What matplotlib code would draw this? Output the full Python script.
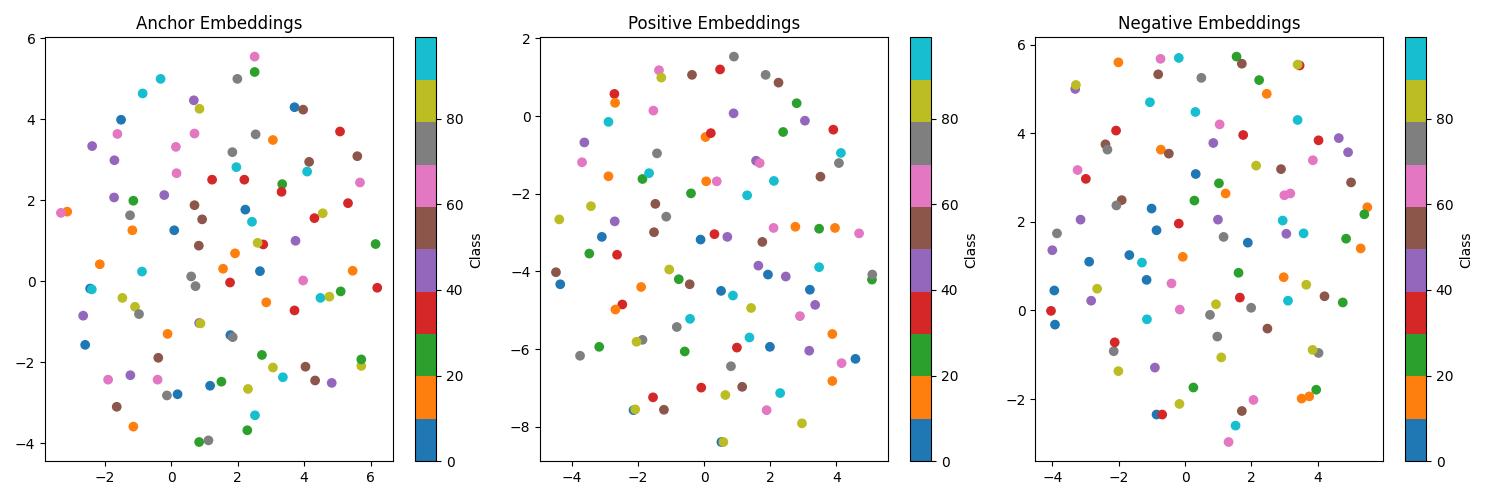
import matplotlib
matplotlib.use("Agg")
import matplotlib.pyplot as plt
import numpy as np

# class labels: 0-99, tab10 groups of 10 (5=blue, 15=orange, 25=green, 35=red,
# 45=purple, 55=brown, 65=pink, 75=gray, 85=olive, 95=cyan)

anchor_x = [-0.32, -0.86, 0.68, 0.85, -1.51, -1.62, 0.70, -2.38, 0.14, -1.71,
            0.16, 1.23, -1.72, -1.14, -0.21, -3.13, -3.32, -1.24, 0.70, 0.93,
            -1.17, 0.09, 0.83, 2.51, 2.51, 1.99, 3.71, 3.97, 5.08, 2.54,
            3.06, 1.84, 5.60, 1.96, 4.15, 4.09, 2.20, 5.68, 3.34, 3.32,
            5.32, 2.23, 4.56, 4.31, 2.43, 2.77, 2.60, 3.74, 6.15, 1.92,
            -2.15, -0.88, 1.56, 0.60, 0.73, -2.44, -2.39, -1.47, -1.09, -0.97,
            -2.65, 0.84, 0.88, -0.11, -2.59, -0.39, -1.90, -1.23, -0.41, -0.13,
            0.19, 1.17, 1.51, -1.64, -1.14, 0.84, 1.12, 2.67, 1.77, 3.97,
            5.46, 6.20, 4.49, 4.76, 5.10, 2.86, 3.71, 1.78, 1.85, 2.73,
            3.06, 3.36, 4.04, 4.33, 4.83, 5.72, 5.72, 2.31, 2.52, 2.29]
anchor_y = [5.00, 4.64, 4.47, 4.26, 3.99, 3.64, 3.65, 3.34, 3.32, 2.99,
            2.67, 2.51, 2.07, 1.99, 2.13, 1.72, 1.69, 1.63, 1.88, 1.53,
            1.26, 1.26, 0.88, 5.55, 5.17, 5.00, 4.30, 4.24, 3.70, 3.63,
            3.49, 3.19, 3.09, 2.82, 2.95, 2.71, 2.51, 2.44, 2.40, 2.21,
            1.93, 1.77, 1.68, 1.56, 1.47, 0.91, 0.95, 1.00, 0.92, 0.69,
            0.42, 0.24, 0.31, 0.12, -0.12, -0.18, -0.20, -0.41, -0.63, -0.81,
            -0.85, -1.03, -1.04, -1.30, -1.57, -1.89, -2.43, -2.32, -2.43, -2.82,
            -2.79, -2.58, -2.48, -3.10, -3.59, -3.97, -3.93, 0.25, -0.03, 0.02,
            0.26, -0.16, -0.41, -0.38, -0.25, -0.52, -0.72, -1.33, -1.38, -1.82,
            -2.13, -2.37, -2.11, -2.45, -2.51, -2.09, -1.93, -2.66, -3.31, -3.68]
anchor_cls = [95, 95, 45, 85, 5, 65, 65, 45, 65, 45,
              65, 35, 45, 25, 45, 15, 65, 75, 55, 55,
              15, 5, 55, 65, 25, 75, 5, 55, 35, 75,
              15, 75, 55, 95, 55, 95, 35, 65, 25, 35,
              35, 5, 85, 35, 95, 35, 85, 45, 25, 15,
              15, 95, 15, 75, 75, 5, 95, 85, 85, 75,
              45, 45, 85, 15, 5, 55, 65, 45, 65, 75,
              5, 5, 25, 55, 15, 25, 75, 5, 35, 65,
              15, 35, 95, 85, 25, 15, 35, 5, 75, 25,
              85, 95, 55, 55, 45, 85, 25, 85, 95, 25]

positive_x = [-1.37, -1.30, -0.37, -2.72, -2.70, -1.54, -2.90, 0.04, 0.20, -3.63,
              -1.43, -3.70, -2.90, -1.87, -1.67, 0.06, 0.38, -0.40, -3.43, -1.48,
              -4.39, -2.71, -1.15, -3.10, -1.52, -0.11, 0.31, 0.90, 0.48, 1.86,
              2.25, 2.80, 0.89, 3.05, 2.39, 3.91, 4.14, 4.08, 1.57, 1.68,
              3.52, 2.11, 1.30, 0.70, 1.76, 2.10, 2.76, 3.48, 3.96, 4.69,
              -3.48, -2.64, -4.49, -4.36, -1.06, -0.77, -0.44, -1.91, -2.48, -2.69,
              -0.43, -0.83, -1.87, -2.05, -3.18, -3.76, -0.59, -0.09, -1.55, -2.14,
              -2.09, -1.22, 1.64, 1.93, 2.47, 3.48, 5.08, 5.09, 0.51, 0.87,
              3.20, 1.42, 3.36, 2.90, 3.88, 1.37, 0.99, 1.99, 3.18, 4.16,
              4.58, 0.81, 1.15, 0.64, 3.88, 2.30, 1.89, 2.96, 0.52, 0.58]
positive_y = [1.18, 0.99, 1.06, 0.57, 0.34, 0.14, -0.15, -0.54, -0.44, -0.68,
              -0.96, -1.19, -1.55, -1.62, -1.47, -1.68, -1.68, -1.99, -2.32, -2.26,
              -2.66, -2.71, -2.59, -3.11, -2.99, -3.18, -3.04, 1.53, 1.20, 1.06,
              0.86, 0.33, 0.07, -0.12, -0.41, -0.35, -0.95, -1.21, -1.15, -1.21,
              -1.56, -1.67, -2.04, -3.11, -3.24, -2.88, -2.85, -2.90, -2.88, -3.02,
              -3.54, -3.57, -4.02, -4.33, -3.95, -4.20, -4.33, -4.40, -4.85, -4.98,
              -5.22, -5.43, -5.76, -5.81, -5.94, -6.17, -6.06, -6.99, -7.24, -7.57,
              -7.55, -7.56, -3.85, -4.08, -4.13, -3.89, -4.21, -4.08, -4.50, -4.62,
              -4.47, -4.94, -4.86, -5.15, -5.61, -5.70, -5.96, -5.94, -6.04, -6.36,
              -6.25, -6.44, -6.97, -7.18, -6.82, -7.13, -7.57, -7.91, -8.39, -8.39]
positive_cls = [65, 85, 55, 35, 15, 65, 95, 15, 35, 45,
                75, 65, 15, 25, 95, 15, 65, 25, 85, 55,
                85, 45, 75, 5, 55, 5, 35, 75, 35, 75,
                55, 25, 45, 45, 25, 35, 95, 75, 45, 65,
                55, 95, 95, 45, 55, 65, 15, 25, 15, 65,
                25, 35, 55, 5, 85, 25, 55, 15, 35, 15,
                95, 75, 75, 85, 25, 75, 25, 35, 35, 5,
                85, 55, 45, 5, 45, 95, 25, 75, 5, 95,
                5, 85, 45, 65, 15, 95, 35, 5, 45, 65,
                5, 75, 55, 85, 15, 95, 65, 85, 5, 85]

negative_x = [-2.01, -0.74, -0.19, -0.81, 0.49, -3.31, -3.29, -1.06, 0.31, -2.08,
              -2.40, -2.34, 0.85, -0.73, -0.49, -3.24, -2.99, 0.32, -1.91, -2.07,
              0.28, -3.15, -1.01, -0.19, -0.86, -3.86, 1.55, 1.71, 3.45, 3.39,
              2.23, 2.46, 3.39, 1.04, 1.75, 4.02, 4.63, 4.91, 3.85, 2.14,
              2.89, 1.02, 1.22, 2.99, 3.17, 5.00, 5.49, 5.40, 0.99, 2.94,
              1.16, 1.89, 3.05, 3.57, 4.85, 5.29, -4.00, -2.89, -1.68, -1.30,
              -0.07, -1.16, -0.41, -3.94, -2.65, -2.83, -4.04, -3.92, -0.16, -1.15,
              -2.15, -2.12, -2.01, -0.91, 0.25, -0.17, -0.86, -0.69, 1.61, 2.97,
              3.65, 4.20, 4.75, 1.65, 3.10, 1.99, 0.93, 0.75, 2.48, 0.97,
              1.09, 4.02, 3.84, 3.95, 3.51, 3.74, 2.06, 1.71, 1.52, 1.31]
negative_y = [5.60, 5.68, 5.70, 5.33, 5.25, 5.00, 5.09, 4.70, 4.48, 4.06,
              3.75, 3.63, 3.78, 3.63, 3.54, 3.17, 2.97, 3.08, 2.49, 2.37,
              2.48, 2.05, 2.30, 1.96, 1.81, 1.74, 5.73, 5.57, 5.53, 5.55,
              5.20, 4.89, 4.30, 4.20, 3.96, 3.84, 3.89, 3.57, 3.39, 3.27,
              3.19, 2.87, 2.64, 2.60, 2.64, 2.89, 2.33, 2.17, 2.05, 2.03,
              1.66, 1.53, 1.73, 1.74, 1.62, 1.40, 1.36, 1.10, 1.25, 1.08,
              1.21, 0.69, 0.61, 0.45, 0.49, 0.22, -0.01, -0.32, 0.02, -0.20,
              -0.92, -0.72, -1.37, -1.29, -1.74, -2.11, -2.35, -2.35, 0.85, 0.75,
              0.58, 0.32, 0.18, 0.29, 0.22, 0.06, 0.14, -0.10, -0.41, -0.59,
              -1.06, -0.96, -0.89, -1.79, -1.99, -1.94, -2.02, -2.27, -2.60, -2.97]
negative_cls = [15, 65, 95, 55, 75, 45, 85, 95, 95, 35,
                55, 75, 45, 15, 55, 65, 35, 5, 55, 75,
                25, 45, 5, 35, 5, 75, 25, 55, 35, 85,
                25, 15, 95, 65, 35, 35, 45, 45, 65, 85,
                55, 25, 15, 65, 65, 55, 15, 25, 45, 95,
                75, 5, 45, 95, 25, 15, 45, 5, 5, 95,
                15, 5, 65, 5, 85, 45, 35, 5, 65, 95,
                75, 35, 85, 45, 25, 85, 5, 35, 25, 15,
                85, 55, 25, 35, 95, 75, 85, 75, 55, 75,
                85, 75, 85, 25, 15, 15, 65, 55, 95, 65]

panels = [
    ("Anchor Embeddings", anchor_x, anchor_y, anchor_cls),
    ("Positive Embeddings", positive_x, positive_y, positive_cls),
    ("Negative Embeddings", negative_x, negative_y, negative_cls),
]

fig, axs = plt.subplots(1, 3, figsize=(15, 5))
for ax, (title, xs, ys, cls) in zip(axs, panels):
    sc = ax.scatter(xs, ys, c=cls, cmap="tab10", vmin=0, vmax=99)
    ax.set_title(title)
    fig.colorbar(sc, ax=ax, label="Class")

plt.tight_layout()
plt.savefig("out.png", dpi=100)
